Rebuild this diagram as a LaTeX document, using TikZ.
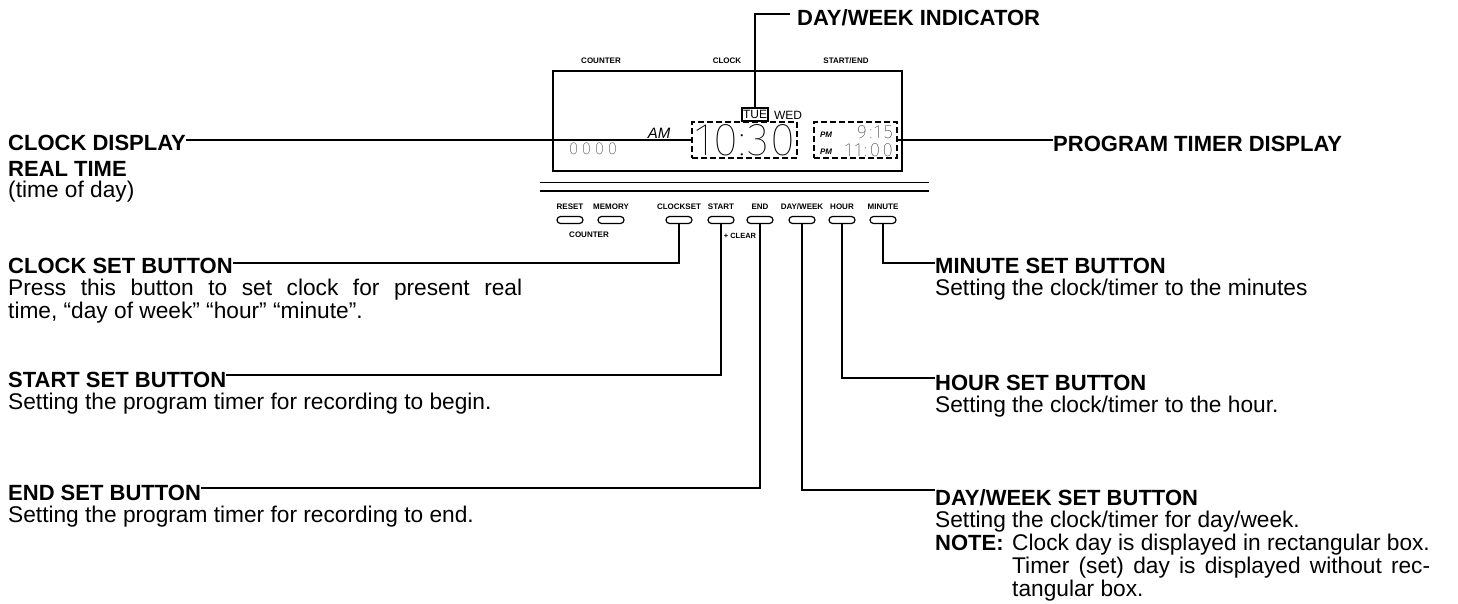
\documentclass[tikz,border=0pt]{standalone}
\usepackage{fontspec}
\setmainfont{Liberation Sans}
\newfontfamily\lcdfont[LetterSpace=2]{Fira Sans Thin}
\newfontfamily\lcdwide[LetterSpace=22]{Fira Sans Thin}
\newfontfamily\lcdmid[LetterSpace=13]{Fira Sans Thin}
\tikzset{
  head/.style={anchor=base west,inner sep=0pt,font=\fontsize{22}{24}\selectfont\bfseries},
  body/.style={anchor=base west,inner sep=0pt,font=\fontsize{22.7}{24}\selectfont},
  tiny/.style={inner sep=0pt,font=\fontsize{8}{9}\selectfont\bfseries},
  btn/.style={draw,line width=1.2pt,rounded corners=3.5pt,minimum width=26pt,minimum height=7pt,inner sep=0pt},
  wire/.style={line width=1.6pt},
  lcdbox/.style={draw,line width=1.1pt,dash pattern=on 6pt off 3pt,minimum height=36pt,inner sep=0pt}
}
\begin{document}
\begin{tikzpicture}[x=1pt,y=-1pt]
\useasboundingbox (0,0) rectangle (1458,603);

% display
\draw[line width=1.6pt] (553,71) rectangle (902,171);
\node[tiny] (tcounter) at (601,61) {COUNTER};
\node[tiny] (tclock) at (727,61) {CLOCK};
\node[tiny] (tstart) at (846,61) {START/END};

\node[draw,line width=1.1pt,inner sep=0pt,minimum width=26pt,minimum height=13pt,font=\fontsize{12}{12}\selectfont] (tue) at (755,114.5) {TUE};
\node[inner sep=0pt,font=\fontsize{12}{12}\selectfont] (wed) at (788,115) {WED};
\node[inner sep=0pt,font=\fontsize{15}{15}\selectfont\itshape] (am) at (659,133) {AM};
\node[inner sep=0pt,font=\lcdwide\fontsize{17}{17}\selectfont] (count) at (593,149) {0000};
\node[lcdbox,minimum width=105pt,font=\lcdfont\fontsize{46}{46}\selectfont] (clk) at (744.5,140) {10:30};
\node[lcdbox,minimum width=83pt] (tmr) at (855.5,140) {};
\node[inner sep=0pt,anchor=east,font=\lcdmid\fontsize{19}{19}\selectfont] (tm1) at (893,132) {9:15};
\node[inner sep=0pt,anchor=east,font=\lcdmid\fontsize{19}{19}\selectfont] (tm2) at (893,150) {11:00};
\node[inner sep=0pt,font=\fontsize{8}{8}\selectfont\bfseries\itshape] (pm1) at (826,135) {PM};
\node[inner sep=0pt,font=\fontsize{8}{8}\selectfont\bfseries\itshape] (pm2) at (826,152) {PM};

% panel lines
\draw[line width=1pt] (540,182)--(929,182);
\draw[line width=1.3pt] (540,191)--(929,191);

% buttons
\foreach \nm/\xx/\txt in {reset/570/RESET,memory/611/MEMORY,clockset/679/CLOCKSET,start/721/START,endb/760/END,dayweek/802/{DAY/WEEK},hourb/842/HOUR,minute/883/MINUTE}
{
  \node[btn] (\nm) at (\xx,220) {};
  \node[tiny] (l\nm) at (\xx,207) {\txt};
}
\node[tiny] (lcounter) at (589,235) {COUNTER};
\node[tiny,font=\fontsize{7.5}{9}\selectfont\bfseries] (lclear) at (740,236) {+ CLEAR};

% left labels
\node[head] (hclock) at (8,150) {CLOCK DISPLAY};
\node[head] (hreal) at (8,176) {REAL TIME};
\node[body] (breal) at (8,197) {(time of day)};

\node[head] (hcset) at (8,273) {CLOCK SET BUTTON};
\node[body] (bcset) at (8,295) {\makebox[514pt][s]{Press this button to set clock for present real}};
\node[body] (bcset2) at (8,318) {time, “day of week” “hour” “minute”.};

\node[head] (hstart) at (8,387) {START SET BUTTON};
\node[body] (bstart) at (8,409) {Setting the program timer for recording to begin.};

\node[head] (hend) at (8,500) {END SET BUTTON};
\node[body] (bend) at (8,522) {Setting the program timer for recording to end.};

% right labels
\node[head] (hind) at (797,25) {DAY/WEEK INDICATOR};
\node[head] (hprog) at (1053,151) {PROGRAM TIMER DISPLAY};

\node[head] (hmin) at (935,273) {MINUTE SET BUTTON};
\node[body] (bmin) at (935,295) {Setting the clock/timer to the minutes};

\node[head] (hhour) at (935,390) {HOUR SET BUTTON};
\node[body] (bhour) at (935,412) {Setting the clock/timer to the hour.};

\node[head] (hday) at (935,505) {DAY/WEEK SET BUTTON};
\node[body] (bday) at (935,527) {Setting the clock/timer for day/week.};
\node[head] (hnote) at (935,550) {NOTE:};
\node[body] (bnote1) at (1012,550) {Clock day is displayed in rectangular box.};
\node[body] (bnote2) at (1012,573) {\makebox[418pt][s]{Timer (set) day is displayed without rec-}};
\node[body] (bnote3) at (1012,596) {tangular box.};

% connectors
\coordinate (cind) at (790,14);
\draw[wire] (tue.north) |- (cind);
\draw[wire] (hclock.east |- clk.west) -- (clk.west);
\draw[wire] (tmr.east) -- (hprog.west |- tmr.east);
\draw[wire] (clockset.south) |- (hcset.east |- 0,263);
\draw[wire] (start.south) |- (hstart.east |- 0,375);
\draw[wire] (endb.south) |- (hend.east |- 0,488);
\draw[wire] (dayweek.south) |- (hday.west |- 0,490);
\draw[wire] (hourb.south) |- (hhour.west |- 0,378);
\draw[wire] (minute.south) |- (hmin.west |- 0,263);
\end{tikzpicture}
\end{document}
